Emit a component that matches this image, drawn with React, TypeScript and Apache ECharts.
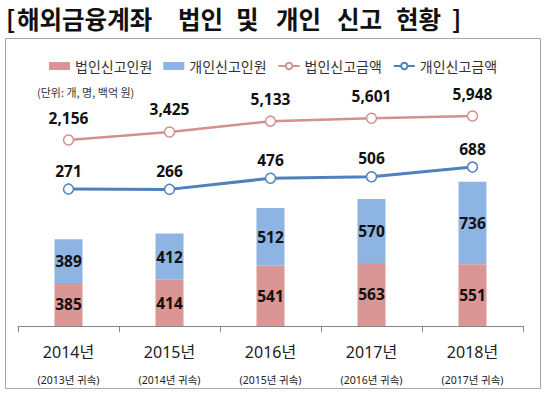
import React, { useEffect, useRef } from "react";
import * as echarts from "echarts";

const years = ["2014년", "2015년", "2016년", "2017년", "2018년"];
const attribution = ["(2013년 귀속)", "(2014년 귀속)", "(2015년 귀속)", "(2016년 귀속)", "(2017년 귀속)"];
const corpCount = [385, 414, 541, 563, 551];
const indivCount = [389, 412, 512, 570, 736];
const corpAmount = [2156, 3425, 5133, 5601, 5948];
const indivAmount = [271, 266, 476, 506, 688];

const titleWords = ["[", "해외금융계좌", "법인", "및", "개인", "신고", "현황", "]"];

const FONT = "'Noto Sans', 'Noto Sans CJK KR', sans-serif";
const RED_BAR = "#D99694";
const BLUE_BAR = "#8DB4E2";
const RED_LINE = "#D4908E";
const BLUE_LINE = "#4F81BD";

export default function App() {
  const ref = useRef<HTMLDivElement>(null);
  useEffect(() => {
    if (!ref.current) return;
    const chart = echarts.init(ref.current, undefined, { renderer: "svg" });
    const barLabel = {
      show: true,
      position: "inside",
      fontSize: 15.5,
      fontWeight: "bold",
      color: "#111",
      fontFamily: FONT,
    };
    const titleX = [6, 17, 178, 236, 276, 337, 396, 452];
    chart.setOption({
      animation: false,
      backgroundColor: "#fff",
      graphic: [
        ...titleWords.map((w, i) => ({
          type: "text",
          x: titleX[i],
          y: 18,
          style: {
            text: w,
            font: "bold 24.5px 'Noto Sans CJK KR', sans-serif",
            fill: "#111",
            verticalAlign: "middle",
          },
        })),
        {
          type: "rect",
          shape: { x: 5.5, y: 38.5, width: 535, height: 350 },
          style: { fill: "none", stroke: "#a6a6a6", lineWidth: 1 },
          silent: true,
        },
        {
          type: "text",
          x: 37,
          y: 92,
          style: {
            text: "(단위: 개, 명, 백억 원)",
            font: "11px 'Noto Sans CJK KR', sans-serif",
            fill: "#333",
            verticalAlign: "middle",
          },
        },
      ],
      legend: {
        left: 44,
        top: 54,
        itemWidth: 21,
        itemHeight: 8,
        itemGap: 11,
        textStyle: { fontSize: 14, color: "#333", fontFamily: "'Noto Sans CJK KR', sans-serif" },
        data: [
          { name: "법인신고인원", icon: "rect" },
          { name: "개인신고인원", icon: "rect" },
          { name: "법인신고금액" },
          { name: "개인신고금액" },
        ],
      },
      grid: { left: 18, right: 22, top: 46, bottom: 68 },
      xAxis: {
        type: "category",
        data: years,
        boundaryGap: true,
        axisLine: { lineStyle: { color: "#868686", width: 1 } },
        axisTick: { show: true, interval: 0, length: 6, lineStyle: { color: "#868686" } },
        axisLabel: {
          interval: 0,
          margin: 14,
          formatter: (v: string, i: number) => `{a|${v}}\n{b|${attribution[i]}}`,
          rich: {
            a: { fontSize: 16, lineHeight: 24, color: "#222", fontFamily: FONT },
            b: { fontSize: 10.5, lineHeight: 32, color: "#222", fontFamily: FONT },
          },
        },
      },
      yAxis: [
        { type: "value", min: 0, max: 2500, show: false, splitLine: { show: false } },
        { type: "value", min: -27200, max: 17000, show: false, splitLine: { show: false } },
        { type: "value", min: -2320, max: 2980, show: false, splitLine: { show: false } },
      ],
      series: [
        {
          name: "법인신고인원",
          type: "bar",
          stack: "count",
          yAxisIndex: 0,
          barWidth: 28,
          data: corpCount,
          itemStyle: { color: RED_BAR },
          label: barLabel,
        },
        {
          name: "개인신고인원",
          type: "bar",
          stack: "count",
          yAxisIndex: 0,
          barWidth: 28,
          data: indivCount,
          itemStyle: { color: BLUE_BAR },
          label: barLabel,
        },
        {
          name: "법인신고금액",
          type: "line",
          yAxisIndex: 1,
          data: corpAmount,
          symbol: "circle",
          symbolSize: 10,
          lineStyle: { color: RED_LINE, width: 2.5 },
          itemStyle: { color: "#fff", borderColor: RED_LINE, borderWidth: 1.5 },
          label: {
            show: true,
            position: "top",
            distance: 9,
            fontSize: 15.5,
            fontWeight: "bold",
            color: "#111",
            fontFamily: FONT,
            formatter: (p: any) => p.value.toLocaleString("en-US"),
          },
        },
        {
          name: "개인신고금액",
          type: "line",
          yAxisIndex: 2,
          data: indivAmount,
          symbol: "circle",
          symbolSize: 10,
          lineStyle: { color: BLUE_LINE, width: 3 },
          itemStyle: { color: "#fff", borderColor: BLUE_LINE, borderWidth: 1.5 },
          label: {
            show: true,
            position: "top",
            distance: 5,
            fontSize: 15.5,
            fontWeight: "bold",
            color: "#111",
            fontFamily: FONT,
          },
        },
      ],
    });
    return () => chart.dispose();
  }, []);
  return (
    <div
      ref={ref}
      style={{ position: "fixed", left: 0, top: 0, width: 545, height: 394, background: "#fff" }}
    />
  );
}
